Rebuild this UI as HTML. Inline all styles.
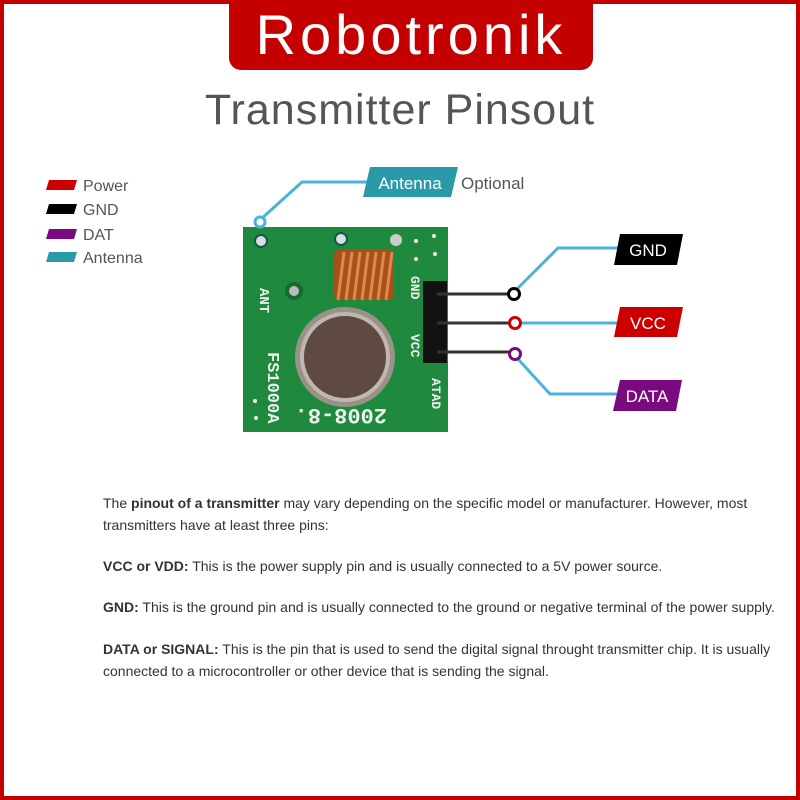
<!DOCTYPE html>
<html><head><meta charset="utf-8"><style>
html,body{margin:0;padding:0;background:#fff}
#wrap{position:relative;width:800px;height:800px;overflow:hidden;box-sizing:border-box;border:4px solid #c40000;background:#fff;font-family:"Liberation Sans",sans-serif}
.logo{position:absolute;left:225px;top:-4px;width:364px;height:70px;background:#c40000;border-radius:0 0 12px 12px;color:#fff;font-size:56px;text-align:center;line-height:70px;letter-spacing:4px}
.title{position:absolute;left:0;width:792px;top:82px;text-align:center;font-size:43px;color:#555;letter-spacing:1px}
.t{position:absolute;left:99px;font-size:14px;color:#333;white-space:nowrap}
</style></head><body><div id="wrap">
<div class="logo">Robotronik</div>
<div class="title">Transmitter Pinsout</div>
<svg width="792" height="792" style="position:absolute;left:0;top:0" viewBox="4 4 792 792">
<polygon points="49,180 77,180 74,190 46,190" fill="#c00"/>
<polygon points="49,204 77,204 74,214 46,214" fill="#000"/>
<polygon points="49,229 77,229 74,239 46,239" fill="#7a0a80"/>
<polygon points="49,252 77,252 74,262 46,262" fill="#2a9aa8"/>
<g font-family="Liberation Sans,sans-serif" font-size="16" fill="#555">
<text x="83" y="191">Power</text><text x="83" y="215">GND</text><text x="83" y="240">DAT</text><text x="83" y="263">Antenna</text></g>
<rect x="243" y="227" width="205" height="205" fill="#1f8a3e"/>
<circle cx="261" cy="241" r="6" fill="#ddd" stroke="#155" stroke-width="2"/>
<circle cx="341" cy="239" r="6" fill="#ddd" stroke="#155" stroke-width="2"/>
<circle cx="396" cy="240" r="6" fill="#ccc"/>
<circle cx="294" cy="291" r="7" fill="#bbb" stroke="#166a30" stroke-width="4"/>
<g fill="#f0f0f0"><circle cx="416" cy="241" r="2"/><circle cx="434" cy="236" r="2"/><circle cx="416" cy="259" r="2"/><circle cx="435" cy="254" r="2"/><circle cx="255" cy="401" r="2"/><circle cx="256" cy="418" r="2"/></g>
<rect x="334" y="250" width="60" height="50" rx="6" fill="#a8501c"/>
<g stroke="#e0884a" stroke-width="3" fill="none">
<path d="M338 300 l6 -48 M346 300 l6 -48 M354 300 l6 -48 M362 300 l6 -48 M370 300 l6 -48 M378 300 l6 -48 M386 300 l6 -48"/></g>
<circle cx="345" cy="357" r="50" fill="#9a9288"/>
<circle cx="345" cy="357" r="43" fill="#5e4a40" stroke="#c0b8b0" stroke-width="4"/>
<g font-family="Liberation Mono,monospace" fill="#eee" font-weight="bold">
<text transform="translate(260,288) rotate(90)" font-size="14">ANT</text>
<text transform="translate(268,352) rotate(90)" font-size="17">FS1000A</text>
<text transform="translate(387,409) rotate(180)" font-size="22">2008-8.</text>
<text transform="translate(411,276) rotate(90)" font-size="13">GND</text>
<text transform="translate(411,334) rotate(90)" font-size="13">VCC</text>
<text transform="translate(432,378) rotate(90)" font-size="13">ATAD</text></g>
<rect x="423" y="281" width="24" height="82" fill="#111"/>
<g stroke="#333" stroke-width="3"><line x1="437" y1="294" x2="510" y2="294"/><line x1="437" y1="323" x2="510" y2="323"/><line x1="437" y1="352" x2="510" y2="352"/></g>
<g stroke="#4ab3dc" stroke-width="3" fill="none">
<polyline points="260,220 302,182 368,182"/>
<polyline points="516,290 558,248 622,248"/>
<polyline points="520,323 622,323"/>
<polyline points="517,358 550,394 622,394"/></g>
<circle cx="260" cy="222" r="5" fill="#fff" stroke="#4ab3dc" stroke-width="3"/>
<circle cx="514" cy="294" r="5.5" fill="#fff" stroke="#000" stroke-width="3"/>
<circle cx="515" cy="323" r="5.5" fill="#fff" stroke="#c00" stroke-width="3"/>
<circle cx="515" cy="354" r="5.5" fill="#fff" stroke="#7a0a80" stroke-width="3"/>
<polygon points="370,167 458,167 451,197 363,197" fill="#2a9aa8"/>
<polygon points="620,234 683,234 677,265 614,265" fill="#000"/>
<polygon points="620,307 683,307 677,337 614,337" fill="#c00"/>
<polygon points="620,380 682,380 676,411 613,411" fill="#7a0a80"/>
<g font-family="Liberation Sans,sans-serif" font-size="17" fill="#fff" text-anchor="middle">
<text x="410" y="189">Antenna</text><text x="648" y="256">GND</text><text x="648" y="329">VCC</text><text x="647" y="402">DATA</text></g>
<text x="461" y="189" font-family="Liberation Sans,sans-serif" font-size="17" fill="#555">Optional</text>
</svg>
<div class="t" style="top:491px">The <b>pinout of a transmitter</b> may vary depending on the specific model or manufacturer. However, most</div>
<div class="t" style="top:513px">transmitters have at least three pins:</div>
<div class="t" style="top:554px"><b>VCC or VDD:</b> This is the power supply pin and is usually connected to a 5V power source.</div>
<div class="t" style="top:595px"><b>GND:</b> This is the ground pin and is usually connected to the ground or negative terminal of the power supply.</div>
<div class="t" style="top:637px"><b>DATA or SIGNAL:</b> This is the pin that is used to send the digital signal throught transmitter chip. It is usually</div>
<div class="t" style="top:659px">connected to a microcontroller or other device that is sending the signal.</div>
</div></body></html>
